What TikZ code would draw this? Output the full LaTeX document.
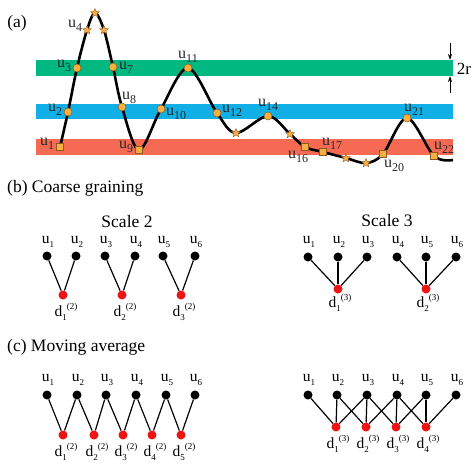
\documentclass[tikz,border=0pt]{standalone}
\usepackage{fontspec}
\setmainfont{Liberation Serif}
\usetikzlibrary{shapes.geometric, arrows.meta}
\definecolor{bgreen}{RGB}{0,184,128}
\definecolor{bblue}{RGB}{16,176,230}
\definecolor{bred}{RGB}{246,106,84}
\definecolor{markfill}{RGB}{250,176,64}
\definecolor{markline}{RGB}{140,90,30}
\definecolor{dred}{RGB}{238,20,20}
\definecolor{labgray}{RGB}{40,40,40}
\newcommand\ula[1]{u\raisebox{-0.5ex}{\fontsize{12}{12}\selectfont #1}}
\newcommand\ulb[1]{u\raisebox{-0.45ex}{\fontsize{9}{9}\selectfont #1}}
\newcommand\dlb[2]{d\raisebox{-0.55ex}{\fontsize{9}{9}\selectfont #1}\raisebox{1.0ex}{\fontsize{9}{9}\selectfont (#2)}}
\begin{document}
\begin{tikzpicture}[x=1pt,y=-1pt,
  mcirc/.style={circle, fill=markfill, draw=markline, line width=0.5pt, inner sep=0pt, minimum size=8pt},
  msq/.style={rectangle, fill=markfill, draw=markline, line width=0.5pt, inner sep=0pt, minimum size=7pt},
  mstar/.style={star, star points=5, star point ratio=2.2, fill=markfill, draw=markline, line width=0.4pt, inner sep=0pt, minimum size=9pt},
  lab/.style={inner sep=0pt, text=labgray, font=\fontsize{16}{16}\selectfont},
  title/.style={inner sep=0pt, anchor=west, font=\fontsize{17.5}{18}\selectfont},
  scl/.style={inner sep=0pt, font=\fontsize{17.5}{18}\selectfont},
  blab/.style={inner sep=0pt, font=\fontsize{15.5}{15}\selectfont},
  bdot/.style={circle, fill=black, inner sep=0pt, minimum size=9pt},
  rdot/.style={circle, fill=dred, inner sep=0pt, minimum size=9pt},
  edge/.style={line width=1.2pt, black},
  curve/.style={line width=2.6pt, black, smooth, tension=0.55},
  dimarrow/.style={-{Stealth[length=6pt,width=4pt]}, line width=0.8pt}
]
\useasboundingbox (0,0) rectangle (474,474);
% ---------------- panel (a)
\node[title, anchor=center] (ta) at (17,23) {(a)};
\fill[bgreen] (36,60) rectangle (453,76);
\fill[bblue] (36,104) rectangle (453,119);
\fill[bred] (36,139) rectangle (453,155);
\draw[curve] plot coordinates {(60,147) (68,112) (77,68) (87,30) (95,13) (104,30) (113,67) (122,107) (139,150) (161,109) (188,68) (217,113) (236,133) (268,116) (290,134) (305,147) (323,152) (346,158) (366,163) (383,154) (407,118) (434,156) (453,160)};
\node[msq] (m1) at (60,147) {};
\node[mcirc] (m2) at (68,112) {};
\node[mcirc] (m3) at (77,68) {};
\node[mstar] (m4) at (87,30) {};
\node[mstar] (m5) at (95,13) {};
\node[mstar] (m6) at (104,30) {};
\node[mcirc] (m7) at (113,67) {};
\node[mcirc] (m8) at (122,107) {};
\node[msq] (m9) at (139,150) {};
\node[mcirc] (m10) at (161,109) {};
\node[mcirc] (m11) at (188,68) {};
\node[mcirc] (m12) at (217,113) {};
\node[mstar] (m13) at (236,133) {};
\node[mcirc] (m14) at (268,116) {};
\node[mstar] (m15) at (290,134) {};
\node[msq] (m16) at (305,147) {};
\node[msq] (m17) at (323,152) {};
\node[mstar] (m18) at (346,158) {};
\node[mstar] (m19) at (366,163) {};
\node[msq] (m20) at (383,154) {};
\node[mcirc] (m21) at (407,118) {};
\node[msq] (m22) at (434,156) {};
\node[lab] (l1) at (47,144) {\ula{1}};
\node[lab] (l2) at (55,110) {\ula{2}};
\node[lab] (l3) at (64,66) {\ula{3}};
\node[lab] (l4) at (75,26) {\ula{4}};
\node[lab] (l7) at (126,68) {\ula{7}};
\node[lab] (l8) at (129,98) {\ula{8}};
\node[lab] (l9) at (126,147) {\ula{9}};
\node[lab] (l10) at (176,114) {\ula{10}};
\node[lab] (l11) at (188,57) {\ula{11}};
\node[lab] (l12) at (232,111) {\ula{12}};
\node[lab] (l14) at (268,105) {\ula{14}};
\node[lab] (l16) at (298,157) {\ula{16}};
\node[lab] (l17) at (332,144) {\ula{17}};
\node[lab] (l20) at (394,166) {\ula{20}};
\node[lab] (l21) at (414,110) {\ula{21}};
\node[lab] (l22) at (444,148) {\ula{22}};
\coordinate (a1s) at (450,43);
\coordinate (a1e) at (450,60);
\coordinate (a2s) at (450,93);
\coordinate (a2e) at (450,76);
\draw[dimarrow] (a1s) -- (a1e);
\draw[dimarrow] (a2s) -- (a2e);
\node[lab, text=black, font=\fontsize{17}{17}\selectfont] (tr) at (464,69) {2r};
% ---------------- panel (b)
\node[title] (tb) at (7,188) {(b) Coarse graining};
\node[scl] (s2) at (127,222) {Scale 2};
\node[scl] (s3) at (387,221) {Scale 3};
% scale 2
\foreach \i/\x in {1/47,2/76,3/105,4/135,5/163,6/195}{
  \node[bdot] (bu\i) at (\x,256) {};
  \node[blab] (bul\i) at (\x+1,242) {\ulb{\i}};
}
\foreach \i/\x in {1/63,2/122,3/181}{
  \node[rdot] (bd\i) at (\x,295) {};
  \node[blab] (bdl\i) at (\x+3,312) {\dlb{\i}{2}};
}
\draw[edge] (bu1) -- (bd1) -- (bu2);
\draw[edge] (bu3) -- (bd2) -- (bu4);
\draw[edge] (bu5) -- (bd3) -- (bu6);
% scale 3
\foreach \i/\x in {1/308,2/338,3/367,4/397,5/426,6/456}{
  \node[bdot] (cu\i) at (\x,257) {};
  \node[blab] (cul\i) at (\x+1,242) {\ulb{\i}};
}
\foreach \i/\x in {1/338,2/426}{
  \node[rdot] (cd\i) at (\x,289) {};
  \node[blab] (cdl\i) at (\x+2,303) {\dlb{\i}{3}};
}
\draw[edge] (cu1) -- (cd1) -- (cu3);
\draw[edge] (cu2) -- (cd1);
\draw[edge] (cu4) -- (cd2) -- (cu6);
\draw[edge] (cu5) -- (cd2);
% ---------------- panel (c)
\node[title] (tc) at (7,347) {(c) Moving average};
\foreach \i/\x in {1/47,2/77,3/106,4/136,5/166,6/195}{
  \node[bdot] (mu\i) at (\x,395) {};
  \node[blab] (mul\i) at (\x+1,380) {\ulb{\i}};
}
\foreach \i/\x in {1/63,2/94,3/123,4/152,5/181}{
  \node[rdot] (md\i) at (\x,435) {};
  \node[blab] (mdl\i) at (\x+3,452) {\dlb{\i}{2}};
}
\foreach \i in {1,...,5}{
  \pgfmathtruncatemacro\j{\i+1}
  \draw[edge] (mu\i) -- (md\i) -- (mu\j);
}
\foreach \i/\x in {1/308,2/337,3/367,4/397,5/426,6/456}{
  \node[bdot] (nu\i) at (\x,395) {};
  \node[blab] (nul\i) at (\x+1,380) {\ulb{\i}};
}
\foreach \i/\x in {1/336,2/366,3/396,4/426}{
  \node[rdot] (nd\i) at (\x,427) {};
  \node[blab] (ndl\i) at (\x+2,444) {\dlb{\i}{3}};
}
\foreach \i in {1,...,4}{
  \pgfmathtruncatemacro\j{\i+1}
  \pgfmathtruncatemacro\k{\i+2}
  \draw[edge] (nu\i) -- (nd\i);
  \draw[edge] (nu\j) -- (nd\i);
  \draw[edge] (nu\k) -- (nd\i);
}
\end{tikzpicture}
\end{document}
